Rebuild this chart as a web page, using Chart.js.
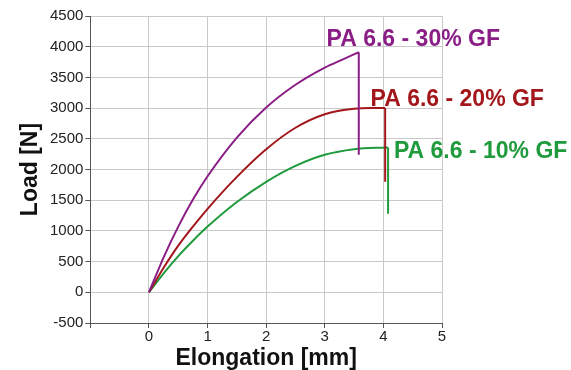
<!DOCTYPE html>
<html>
<head>
<meta charset="utf-8">
<script src="https://cdn.jsdelivr.net/npm/chart.js@4/dist/chart.umd.min.js"></script>
<style>
  body { margin: 0; background: #fff; }
  #wrap { width: 571px; height: 370px; position: relative; }
</style>
</head>
<body>
<div id="wrap"><canvas id="chart"></canvas></div>
<script>
// elongation [mm] / load [N], last point = after the break
const elong30 = [0, 0.25, 0.5, 0.75, 1, 1.5, 2, 2.5, 3, 3.3, 3.58, 3.58]
const load30 = [0, 570, 1070, 1510, 1890, 2520, 3010, 3380, 3660, 3790, 3910, 2240]

const elong20 = [0, 0.25, 0.5, 0.75, 1, 1.5, 2, 2.5, 3, 3.5, 3.8, 4.03, 4.03]
const load20 = [0, 400, 760, 1070, 1360, 1880, 2330, 2680, 2900, 2990, 3000, 3000, 1800]

const elong10 = [0, 0.25, 0.5, 0.75, 1, 1.5, 2, 2.5, 3, 3.5, 4.08, 4.08]
const load10 = [0, 310, 590, 840, 1070, 1470, 1800, 2060, 2240, 2330, 2360, 1280]

const seriesNames = ["PA 6.6 - 30% GF", "PA 6.6 - 20% GF", "PA 6.6 - 10% GF"]
const seriesColors = ["#8a1d86", "#a3171c", "#1f9a3c"]
// where each name sits, in data units (left edge x, middle y)
const nameX = [3.03, 3.78, 4.18]
const nameY = [4110, 3140, 2290]

const font = "'Liberation Sans', Arial, sans-serif"

const toPoints = (xs, ys) => xs.map((x, i) => ({ x: x, y: ys[i] }))

const curveNames = {
    id: "curveNames",
    afterDatasetsDraw(chart) {
        const ctx = chart.ctx
        const xs = chart.scales.x
        const ys = chart.scales.y
        ctx.save()
        ctx.font = "bold 23px " + font
        ctx.textAlign = "left"
        ctx.textBaseline = "middle"
        seriesNames.forEach(function (name, i) {
            ctx.fillStyle = seriesColors[i]
            ctx.fillText(name, xs.getPixelForValue(nameX[i]), ys.getPixelForValue(nameY[i]))
        })
        ctx.restore()
    },
}

// smooth rising part
const curve = (xs, ys, color) => ({
    data: toPoints(xs.slice(0, -1), ys.slice(0, -1)),
    borderColor: color,
    backgroundColor: color,
    borderWidth: 2,
    pointRadius: 0,
    showLine: true,
    cubicInterpolationMode: "monotone",
})

// straight drop at break
const drop = (xs, ys, color) => ({
    data: toPoints(xs.slice(-2), ys.slice(-2)),
    borderColor: color,
    backgroundColor: color,
    borderWidth: 2,
    pointRadius: 0,
    showLine: true,
    tension: 0,
})

new Chart(document.getElementById("chart").getContext("2d"), {
    type: "scatter",
    data: {
        datasets: [
            curve(elong30, load30, seriesColors[0]),
            drop(elong30, load30, seriesColors[0]),
            curve(elong20, load20, seriesColors[1]),
            drop(elong20, load20, seriesColors[1]),
            curve(elong10, load10, seriesColors[2]),
            drop(elong10, load10, seriesColors[2]),
        ],
    },
    options: {
        responsive: true,
        maintainAspectRatio: false,
        animation: false,
        layout: {
            padding: { top: 16, right: 129, left: 19, bottom: 0 },
        },
        plugins: {
            legend: { display: false },
            tooltip: { enabled: false },
        },
        scales: {
            x: {
                type: "linear",
                min: -1,
                max: 5,
                border: { color: "#555", width: 1 },
                grid: { color: "#c9c9c9", tickLength: 5, tickColor: "#555" },
                ticks: {
                    stepSize: 1,
                    color: "#222",
                    padding: 1,
                    font: { family: font, size: 15, lineHeight: 1.0 },
                    callback: (v) => (v < 0 ? "" : String(v)),
                },
                title: {
                    display: true,
                    text: "Elongation [mm]",
                    color: "#111",
                    padding: { top: 2, bottom: 0 },
                    font: { family: font, size: 23, weight: "bold", lineHeight: 1.0 },
                },
            },
            y: {
                min: -500,
                max: 4500,
                border: { color: "#555", width: 1 },
                grid: { color: "#c9c9c9", tickLength: 5, tickColor: "#555" },
                ticks: {
                    stepSize: 500,
                    color: "#222",
                    padding: 2,
                    font: { family: font, size: 15 },
                    callback: (v) => String(v),
                },
                title: {
                    display: true,
                    text: "Load [N]",
                    color: "#111",
                    padding: { top: 0, bottom: 6 },
                    font: { family: font, size: 23, weight: "bold", lineHeight: 1.0 },
                },
            },
        },
    },
    plugins: [curveNames],
});
</script>
</body>
</html>
